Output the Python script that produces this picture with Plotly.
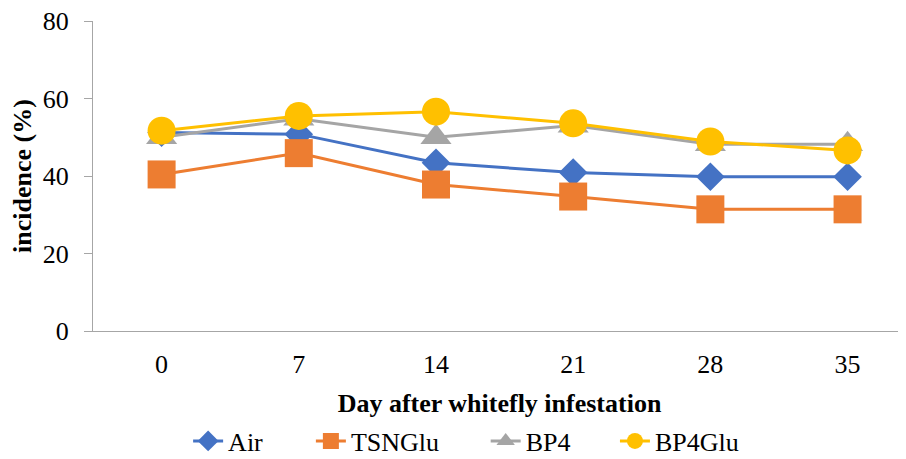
import plotly.graph_objects as go

days = ["0", "7", "14", "21", "28", "35"]
air = [51.2, 50.8, 43.4, 40.9, 39.8, 39.8]
tsnglu = [40.4, 45.9, 37.8, 34.7, 31.4, 31.4]
bp4 = [50.0, 54.8, 50.0, 53.0, 48.2, 48.2]
bp4glu = [51.7, 55.5, 56.6, 53.6, 48.9, 46.6]

series = [
    ("Air", air, "#4472C4", "diamond", 22),
    ("TSNGlu", tsnglu, "#ED7D31", "square", 28),
    ("BP4", bp4, "#A5A5A5", "triangle-up", 27),
    ("BP4Glu", bp4glu, "#FFC000", "circle", 28),
]
legend_ids = ["legend", "legend2", "legend3", "legend4"]
legend_x = [0.117, 0.268, 0.483, 0.642]

font_family = "Liberation Serif"

fig = go.Figure()
for (name, vals, color, sym, size), lid in zip(series, legend_ids):
    fig.add_trace(go.Scatter(
        x=days, y=vals, name=name, mode="lines+markers",
        line=dict(color=color, width=3),
        marker=dict(symbol=sym, size=size, color=color, line=dict(width=0)),
        legend=lid,
    ))

layout_legends = {}
for lid, lx in zip(legend_ids, legend_x):
    layout_legends[lid] = dict(
        orientation="h", x=lx, xref="paper", xanchor="left",
        y=-0.355, yref="paper", yanchor="middle",
        font=dict(size=26), bgcolor="rgba(0,0,0,0)",
    )

fig.update_layout(
    width=898, height=451,
    margin=dict(l=85, r=0, t=13, b=128, autoexpand=False),
    paper_bgcolor="white", plot_bgcolor="white",
    font=dict(family=font_family, size=26, color="#000000"),
    showlegend=True,
    xaxis=dict(
        type="category", range=[-0.5, 5.426], automargin=False,
        showgrid=False, showline=True, linecolor="#A6A6A6", linewidth=1,
        ticks="", tickfont=dict(size=26), ticklabelstandoff=10,
        ticklabeloverflow="allow",
        title=dict(text="<b>Day after whitefly infestation</b>", font=dict(size=26), standoff=15),
        zeroline=False,
    ),
    yaxis=dict(
        range=[0, 80], dtick=20, tick0=0, automargin=False,
        showgrid=False, showline=True, linecolor="#A6A6A6", linewidth=1,
        ticks="outside", ticklen=8, tickcolor="#A6A6A6",
        tickfont=dict(size=26), ticklabelstandoff=10,
        ticklabeloverflow="allow",
        title=dict(text="<b>incidence (%)</b>", font=dict(size=26), standoff=6),
        zeroline=False,
    ),
    **layout_legends,
)

fig.write_html("out.html")
